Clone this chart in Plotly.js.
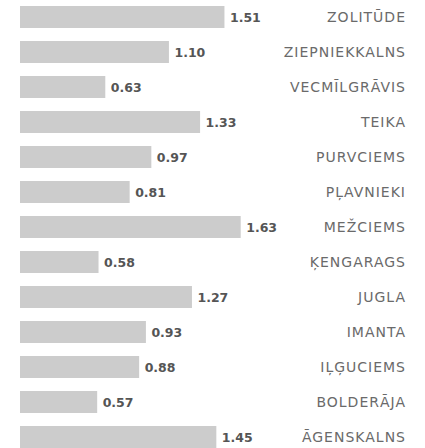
<!DOCTYPE html>
<html>
<head>
<meta charset="utf-8">
<script src="https://cdn.plot.ly/plotly-3.0.1.min.js"></script>
<style>
html,body{margin:0;padding:0;background:#fff;}
#chart{width:425px;height:448px;}
#chart .ytick text{letter-spacing:1px;}
</style>
</head>
<body>
<div id="chart"></div>
<script>
const categories = ["ZOLITŪDE","ZIEPNIEKKALNS","VECMĪLGRĀVIS","TEIKA","PURVCIEMS","PĻAVNIEKI","MEŽCIEMS","ĶENGARAGS","JUGLA","IMANTA","IĻĢUCIEMS","BOLDERĀJA","ĀGENSKALNS"];
const values = [1.51,1.10,0.63,1.33,0.97,0.81,1.63,0.58,1.27,0.93,0.88,0.57,1.45];
const valueLabels = values.map(v => '\u2009' + v.toFixed(2));

const trace = {
  type: 'bar',
  orientation: 'h',
  x: values,
  y: categories,
  marker: {color: '#cccccc'},
  text: valueLabels,
  textposition: 'outside',
  constraintext: 'none',
  cliponaxis: false,
  textfont: {family: 'DejaVu Sans', size: 12.5, color: '#555555', weight: 'bold'},
  hoverinfo: 'none'
};

const layout = {
  width: 425, height: 448,
  margin: {l: 20, r: 16, t: 0, b: 0},
  paper_bgcolor: '#ffffff', plot_bgcolor: '#ffffff',
  bargap: 0.371,
  showlegend: false,
  font: {family: 'DejaVu Sans'},
  xaxis: {range: [0, 2.873], showgrid: false, zeroline: false, showticklabels: false, showline: false, fixedrange: true},
  yaxis: {
    type: 'category',
    range: [12 + 11/35, -17/35],
    side: 'right',
    ticklabelposition: 'inside',
    showgrid: false, zeroline: false, showline: false, ticks: '',
    tickfont: {family: 'DejaVu Sans', size: 14, color: '#6a6a6a'}
  }
};

Plotly.newPlot('chart', [trace], layout, {displayModeBar: false, staticPlot: true});
</script>
</body>
</html>
